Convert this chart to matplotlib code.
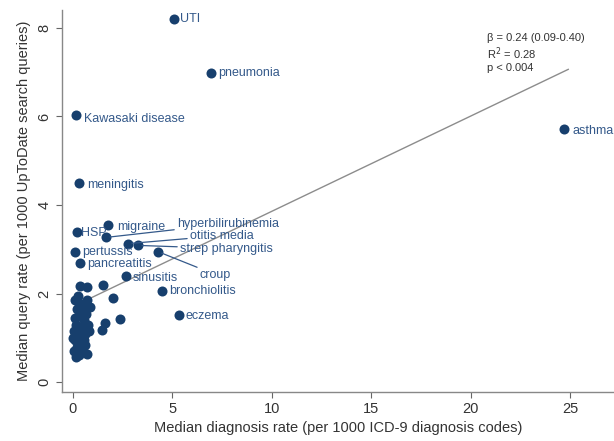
import numpy as np
import matplotlib
matplotlib.use("Agg")
import matplotlib.pyplot as plt

plt.rcParams['font.family'] = ['Liberation Sans', 'DejaVu Sans']

# labelled conditions: x = median diagnosis rate, y = median query rate
names = ['UTI', 'pneumonia', 'Kawasaki disease', 'meningitis', 'asthma', 'HSP',
         'migraine', 'hyperbilirubinemia', 'otitis media', 'strep pharyngitis',
         'croup', 'pertussis', 'pancreatitis', 'sinusitis', 'bronchiolitis', 'eczema']
diag = [5.07, 6.93, 0.15, 0.30, 24.7, 0.20, 1.76, 1.66, 2.76, 3.27, 4.27,
        0.10, 0.35, 2.66, 4.47, 5.33]
query = [8.20, 6.98, 6.04, 4.50, 5.72, 3.40, 3.54, 3.27, 3.13, 3.09, 2.95,
         2.95, 2.70, 2.39, 2.05, 1.51]
# label positions
lab_x = [5.4, 7.3, 0.55, 0.7, 25.1, 0.4, 2.2, 5.23, 5.88, 5.38, 6.38,
         0.45, 0.7, 3.0, 4.82, 5.68]
lab_y = [8.2, 6.98, 5.95, 4.46, 5.68, 3.38, 3.51, 3.58, 3.31, 3.02, 2.43,
         2.93, 2.68, 2.36, 2.05, 1.49]
leader = ['hyperbilirubinemia', 'otitis media', 'strep pharyngitis', 'croup']

# unlabelled conditions
other_x = [0.35, 0.7, 1.5, 2.0, 2.36, 1.6, 1.46, 0.1, 0.3, 0.5, 0.7, 0.2,
           0.45, 0.65, 0.85, 0.1, 0.3, 0.55, 0.75, 0.15, 0.4, 0.6, 0.05,
           0.25, 0.5, 0.8, 0.1, 0.35, 0.6, 0.2, 0.45, 0.7, 0.05, 0.3, 0.15,
           0.55, 0.0, 0.4, 0.25]
other_y = [2.18, 2.14, 2.20, 1.91, 1.44, 1.33, 1.19, 1.85, 1.80, 1.75, 1.85,
           1.65, 1.60, 1.55, 1.70, 1.45, 1.50, 1.40, 1.30, 1.30, 1.20, 1.10,
           1.15, 1.05, 1.00, 1.15, 0.95, 0.90, 0.85, 0.80, 0.75, 0.65, 0.70,
           0.62, 0.58, 0.95, 1.00, 1.25, 1.95]

# regression line
slope, intercept = 0.215, 1.71
line_x = [0.85, 24.9]
stats_text = 'β = 0.24 (0.09-0.40)\nR$^2$ = 0.28\np < 0.004'

navy = '#173f6d'
lblue = '#34598a'

fig = plt.figure(figsize=(6.14, 4.41), dpi=100)
ax = fig.add_axes([0.101, 0.111, 0.899, 0.866])

lx = np.array(line_x)
ax.plot(lx, intercept + slope * lx, color='#8c8c8c', lw=1.0, zorder=1)

ax.scatter(other_x, other_y, s=52, color=navy, zorder=3, linewidths=0)
ax.scatter(diag, query, s=52, color=navy, zorder=3, linewidths=0)

for n, px, py, tx, ty in zip(names, diag, query, lab_x, lab_y):
    if n in leader:
        ax.annotate(n, xy=(px, py), xytext=(tx, ty), color=lblue, fontsize=9,
                    va='center', ha='left',
                    arrowprops=dict(arrowstyle='-', color=lblue, lw=0.9,
                                    shrinkA=0, shrinkB=3))
    else:
        ax.text(tx, ty, n, color=lblue, fontsize=9, va='center', ha='left')

ax.text(20.8, 7.88, stats_text, fontsize=8, color='#333333', va='top',
        ha='left', linespacing=1.15)

ax.set_xlim(-0.55, 27.2)
ax.set_ylim(-0.22, 8.4)
ax.set_xticks([0, 5, 10, 15, 20, 25])
ax.set_yticks([0, 2, 4, 6, 8])
for lbl in ax.get_yticklabels():
    lbl.set_rotation(90)
    lbl.set_va('center')
ax.tick_params(colors='#666666', labelcolor='#333333', labelsize=10.5,
               length=4, width=0.8)
for s in ['top', 'right']:
    ax.spines[s].set_visible(False)
for s in ['left', 'bottom']:
    ax.spines[s].set_color('#888888')
    ax.spines[s].set_linewidth(1.0)

ax.set_xlabel('Median diagnosis rate (per 1000 ICD-9 diagnosis codes)',
              fontsize=10.5, color='#333333', labelpad=3)
ax.set_ylabel('Median query rate (per 1000 UpToDate search queries)',
              fontsize=10.5, color='#333333', labelpad=5)

fig.savefig('out.png', dpi=100)
